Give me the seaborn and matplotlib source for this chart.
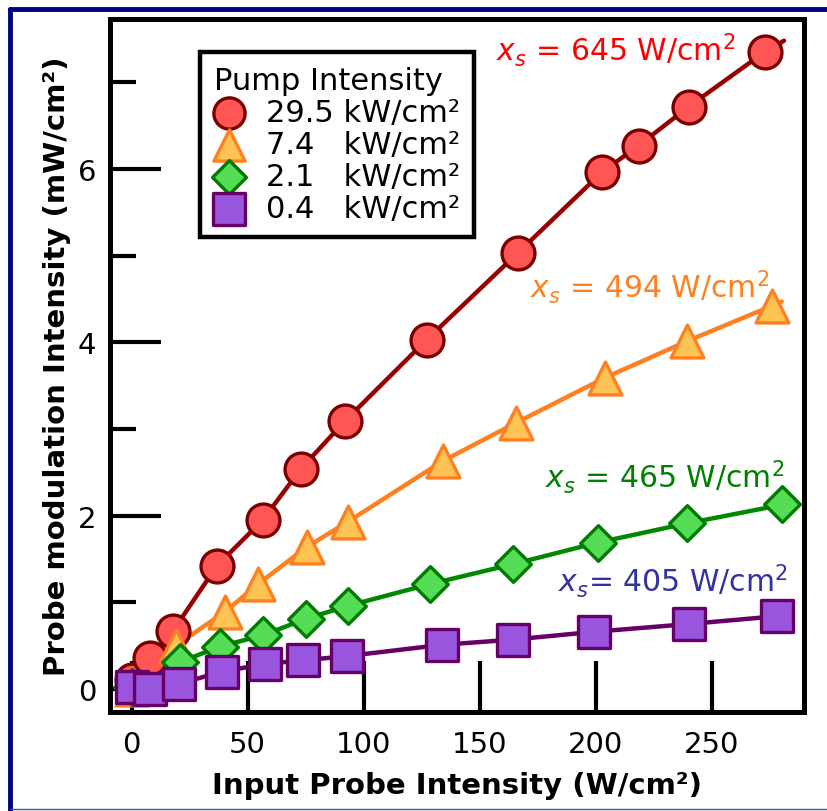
import numpy as np
import pandas as pd
import seaborn as sns
import matplotlib.pyplot as plt
from matplotlib.lines import Line2D
from matplotlib.ticker import MultipleLocator

# data
pump_labels = ["29.5 kW/cm²", "7.4   kW/cm²", "2.1   kW/cm²", "0.4   kW/cm²"]

red_x = [0, 8, 17.8, 36.7, 56.5, 72.9, 91.8, 127.1, 166.3, 202.5, 218.4, 240.0, 272.7]
red_y = [0.1, 0.36, 0.67, 1.42, 1.95, 2.54, 3.09, 4.03, 5.03, 5.96, 6.27, 6.72, 7.35]

orange_x = [0, 19.0, 40.2, 54.4, 75.5, 93.2, 134.0, 165.5, 203.8, 239.0, 275.7]
orange_y = [0.0, 0.5, 0.89, 1.21, 1.64, 1.93, 2.63, 3.07, 3.59, 4.01, 4.42]

green_x = [0, 20.8, 38.0, 56.5, 75.1, 93.2, 128.4, 164.2, 200.8, 239.0, 280.0]
green_y = [0.02, 0.31, 0.49, 0.62, 0.81, 0.96, 1.21, 1.44, 1.69, 1.91, 2.13]

purple_x = [0, 8, 20.4, 38.9, 57.4, 73.8, 92.7, 133.7, 164.2, 199.0, 240.0, 277.9]
purple_y = [0.02, 0.0, 0.06, 0.2, 0.29, 0.33, 0.38, 0.51, 0.57, 0.66, 0.75, 0.84]

# where the fitted curves end
line_end_x = [281, 280, 280, 272]
line_end_y = [7.48, 4.47, 2.12, 0.84]

xs_labels = [r"$x_s$ = 645 W/cm$^2$", r"$x_s$ = 494 W/cm$^2$",
             r"$x_s$ = 465 W/cm$^2$", r"$x_s$= 405 W/cm$^2$"]
xs_pos_x = [157, 171.5, 178, 183.5]
xs_pos_y = [7.38, 4.65, 2.46, 1.25]

face_colors = ["#FF5555", "#FFC455", "#55DD55", "#9955DD"]
edge_colors = ["#7A0000", "#FF8020", "#007A00", "#660066"]
line_colors = ["#990000", "#FF8020", "#008800", "#660066"]
text_colors = ["#FF0000", "#FF8020", "#008000", "#3333A0"]
markers = ["o", "^", "D", "s"]
sizes = [560, 560, 330, 560]

sns.set_style("white")
plt.rcParams["font.family"] = ["DejaVu Sans"]
plt.rcParams["mathtext.fontset"] = "dejavusans"
for key in ["text.color", "axes.labelcolor", "xtick.color", "ytick.color"]:
    plt.rcParams[key] = "black"

series = [(red_x, red_y), (orange_x, orange_y), (green_x, green_y), (purple_x, purple_y)]
frames = []
for i, (sx, sy) in enumerate(series):
    frames.append(pd.DataFrame({"x": sx, "y": sy, "pump": pump_labels[i]}))
df = pd.concat(frames, ignore_index=True)

fig = plt.figure(figsize=(8.27, 8.12), dpi=100)
ax = fig.add_axes([110 / 827, 1 - 713 / 812, (804 - 110) / 827, (713 - 20) / 812])

for i, lab in enumerate(pump_labels):
    d = df[df["pump"] == lab]
    lx = [0] + list(d["x"][1:]) + [line_end_x[i]]
    ly = [0] + list(d["y"][1:]) + [line_end_y[i]]
    sns.lineplot(x=lx, y=ly, ax=ax, color=line_colors[i], lw=3.2, sort=False,
                 legend=False, zorder=2)

for i, lab in enumerate(pump_labels):
    d = df[df["pump"] == lab]
    sns.scatterplot(data=d, x="x", y="y", ax=ax, marker=markers[i], s=sizes[i],
                    color=face_colors[i], edgecolor=edge_colors[i], linewidth=2.4,
                    label=lab, zorder=3 + i)

for i in range(4):
    ax.text(xs_pos_x[i], xs_pos_y[i], xs_labels[i], color=text_colors[i],
            fontsize=21.5, ha="left", va="center")

ax.set_xlim(-9.3, 289.6)
ax.set_ylim(-0.265, 7.73)
ax.xaxis.set_major_locator(MultipleLocator(50))
ax.yaxis.set_major_locator(MultipleLocator(2))
ax.yaxis.set_minor_locator(MultipleLocator(1))
ax.tick_params(axis="x", which="major", direction="in", length=37, width=3,
               labelsize=21, pad=13, bottom=True, top=False)
ax.tick_params(axis="y", which="major", direction="in", length=37, width=3,
               labelsize=21, pad=10, left=True, right=False)
ax.tick_params(axis="y", which="minor", direction="in", length=19, width=3,
               left=True, right=False)
for sp in ax.spines.values():
    sp.set_linewidth(3.6)
    sp.set_color("black")

ax.set_xlabel("Input Probe Intensity (W/cm²)", fontsize=21, fontweight="bold", labelpad=9)
ax.set_ylabel("Probe modulation Intensity (mW/cm²)", fontsize=21, fontweight="bold", labelpad=5)

leg = ax.legend(title="Pump Intensity", loc="upper left", bbox_to_anchor=(0.13, 0.952),
                borderaxespad=0, fontsize=22, title_fontsize=22, frameon=True,
                fancybox=False, edgecolor="black", framealpha=1, labelspacing=0.1,
                handletextpad=0.7, borderpad=0.45, handlelength=1.0,
                alignment="left", markerscale=0.95)
leg.get_frame().set_linewidth(3.2)

# navy border round the figure
fig.add_artist(Line2D([10 / 827, 10 / 827], [0, 1 - 10 / 812], transform=fig.transFigure,
                      color="#000080", lw=3.5))
fig.add_artist(Line2D([10 / 827, 1], [1 - 10 / 812, 1 - 10 / 812], transform=fig.transFigure,
                      color="#000080", lw=3.5))
fig.add_artist(Line2D([10 / 827, 1], [2 / 812, 2 / 812], transform=fig.transFigure,
                      color="#4050A0", lw=1))

fig.savefig("out.png", dpi=100)
